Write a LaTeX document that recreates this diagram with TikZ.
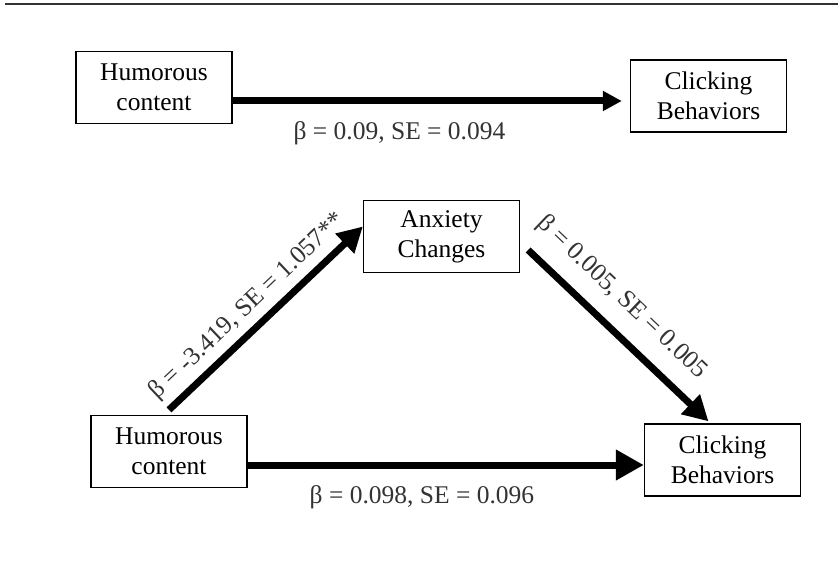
\documentclass[tikz,border=0pt]{standalone}
\usepackage{fontspec}
\setmainfont{Liberation Serif}
\usetikzlibrary{arrows.meta}

\begin{document}
\begin{tikzpicture}[x=1pt, y=-1pt,
  every node/.style={align=center, font=\fontsize{25.5}{30}\selectfont},
  varbox/.style={draw, line width=1.3pt, minimum width=156pt, minimum height=72pt, inner sep=0pt},
  path/.style={line width=7pt},
  coef/.style={text=black!80, inner sep=0pt}]
\useasboundingbox (0,0) rectangle (838,567);
\draw[line width=1.7pt, black!80] (5,4) -- (838,4);

% total effect
\node[varbox] at (154,87.5) (hc1) {Humorous\\content};
\node[varbox] at (708.5,96) (cb1) {Clicking\\Behaviors};
\draw[path, -{Triangle[length=19pt, width=19pt]}, shorten >=8pt] ([yshift=-13.5pt]hc1.east) -- ([yshift=-5pt]cb1.west)
  node[coef, pos=0.42, below=17pt] (c1) {β = 0.09, SE = 0.094};

% mediation model
\node[varbox] at (441.5,236.5) (anx) {Anxiety\\Changes};
\node[varbox] at (169,451.5) (hc2) {Humorous\\content};
\node[varbox] at (722.5,460) (cb2) {Clicking\\Behaviors};

\draw[path, -{Triangle[length=25pt, width=26pt]}] ([yshift=5pt]hc2.north) -- ([yshift=10pt]anx.west)
  node[coef, sloped, pos=0.48, above=6pt] (a) {β = -3.419, SE = 1.057**};
\draw[path, -{Triangle[length=25pt, width=26pt]}] ([xshift=8pt, yshift=-13.5pt]anx.east) -- ([xshift=-14pt, yshift=2pt]cb2.north)
  node[coef, sloped, pos=0.405, above=15pt] (b) {β = 0.005, SE = 0.005};
\draw[path, -{Triangle[length=28pt, width=29pt]}] ([yshift=-13.5pt]hc2.east) -- ([yshift=-5pt]cb2.west)
  node[coef, pos=0.44, below=17pt] (c2) {β = 0.098, SE = 0.096};
\end{tikzpicture}
\end{document}
